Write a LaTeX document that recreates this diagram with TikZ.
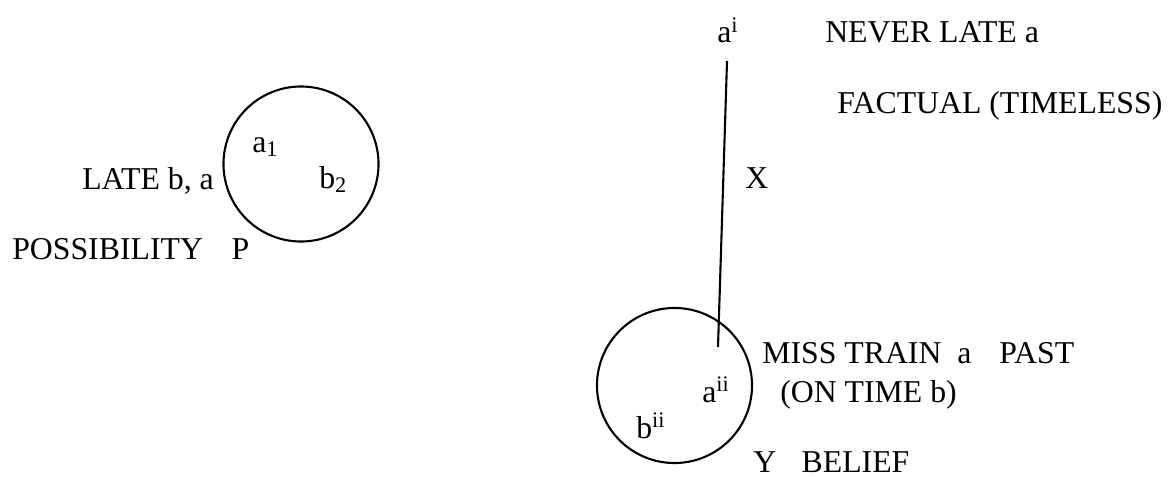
\documentclass[tikz,border=0pt]{standalone}
\usepackage{fontspec}
\setmainfont{Liberation Serif}

\begin{document}
\begin{tikzpicture}[
	x=0.025cm, y=-0.025cm,
	lbl/.style={
		inner sep=0pt, anchor=base west,
		font=\fontsize{22.6pt}{27pt}\selectfont
	},
	ring/.style={
		draw, line width=1.5pt, circle,
		minimum size=3.875cm, inner sep=0pt
	},
	link/.style={line width=1.5pt},
	]
	\useasboundingbox (0,0) rectangle (1168,479);
	
	% Possibility circle (left)
	\node[ring] (poss) at (301, 164) {};
	\node[lbl] (a1)   at (252, 152) {a\textsubscript{1}};
	\node[lbl] (b2)   at (319, 188) {b\textsubscript{2}};
	\node[lbl] (late) at (82, 189)  {LATE b, a};
	\node[lbl] (plab) at (12, 259)  {POSSIBILITY\hspace{0.9em}P};
	
	% Factual (top right)
	\node[lbl] (ai)    at (717, 43)  {a\textsuperscript{i}};
	\node[lbl] (never) at (825, 43)  {NEVER LATE a};
	\node[lbl] (fact)  at (837, 113) {FACTUAL (TIMELESS)};
	\node[lbl] (xlab)  at (745, 188) {X};
	
	% Belief circle (bottom right)
	\node[ring] (bel) at (674.5, 385.5) {};
	\node[lbl] (aii)  at (702, 402) {a\textsuperscript{ii}};
	\node[lbl] (bii)  at (636, 438) {b\textsuperscript{ii}};
	\node[lbl] (miss) at (762, 363) {MISS TRAIN\hspace{0.5em}a\hspace{0.88em}PAST};
	\node[lbl] (ontm) at (780, 402) {(ON TIME b)};
	\node[lbl] (ylab) at (753, 472) {Y\hspace{0.8em}BELIEF};
	
	% X line from a^i down into the belief circle
	\coordinate (xtop) at (727, 61);
	\coordinate (xbot) at (718, 347);
	\draw[link] (xtop) -- (xbot);
	
\end{tikzpicture}
\end{document}
